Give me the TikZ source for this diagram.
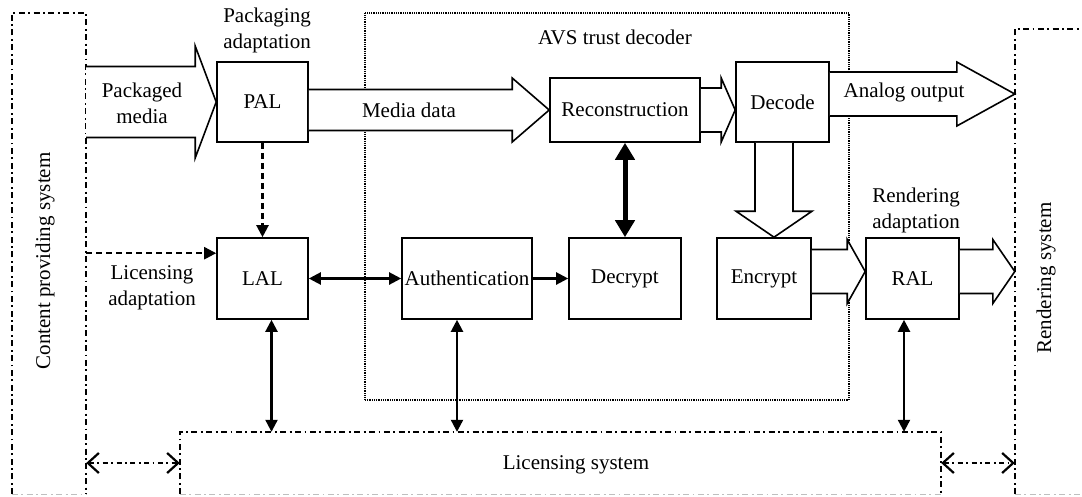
\documentclass[tikz,border=0pt]{standalone}
\usepackage{fontspec}
\setmainfont{Liberation Serif}
\usetikzlibrary{arrows.meta,calc}

% horizontal block arrow: tail, tip, body half-height, head half-height, head length
\newcommand\hfat[5]{%
  \draw[fat] ($(#1)+(0,-#3)$) -- ($(#2)+(-#5,-#3)$) -- ($(#2)+(-#5,-#4)$) -- (#2)
    -- ($(#2)+(-#5,#4)$) -- ($(#2)+(-#5,#3)$) -- ($(#1)+(0,#3)$);}
% downward block arrow: tail, tip, body half-width, head half-width, head length
\newcommand\vfat[5]{%
  \draw[fat] ($(#1)+(-#3,0)$) -- ($(#2)+(-#3,-#5)$) -- ($(#2)+(-#4,-#5)$) -- (#2)
    -- ($(#2)+(#4,-#5)$) -- ($(#2)+(#3,-#5)$) -- ($(#1)+(#3,0)$);}

\begin{document}
\begin{tikzpicture}[x=1pt,y=-1pt,
  every node/.style={font=\fontsize{21}{26}\selectfont, inner sep=0pt, align=center},
  blk/.style={draw, line width=1.6pt},
  fat/.style={draw, line width=1.6pt, line join=miter, fill=white},
  dashdot/.style={line width=1.7pt, dash pattern=on 6pt off 3.5pt on 1.8pt off 3.5pt},
  faintdashdot/.style={line width=1.3pt, gray!50, dash pattern=on 6pt off 3.5pt on 1.8pt off 3.5pt},
  dotbox/.style={line width=1.4pt, dash pattern=on 1pt off 0.8pt},
  tri/.tip={Triangle[length=12pt,width=12pt]},
  link/.style={line width=2.2pt, tri-tri},
  onelink/.style={line width=2.2pt, -tri},
  dlink/.style={line width=2.2pt, dash pattern=on 6pt off 4pt, -tri},
  barb/.tip={Straight Barb[length=11pt,width=20pt,line width=2.2pt]},
  ddlink/.style={line width=1.8pt, dash pattern=on 5pt off 3.5pt on 1.8pt off 3.5pt, barb-barb},
  biglink/.style={line width=5pt, {Triangle[length=17pt,width=19pt]}-{Triangle[length=17pt,width=19pt]}}
]
\useasboundingbox (0,0) rectangle (1082,496);

% outer systems
\node (CPS) [minimum width=74pt, minimum height=481pt] at (49,253.5) {};
\draw[dashdot] (CPS.south west) -- (CPS.north west) -- (CPS.north east) -- (CPS.south east);
\draw[faintdashdot] (CPS.south west) -- (CPS.south east);
\node (cpstext) [rotate=90] at (45,261) {Content providing system};

\node (RS) [minimum width=90pt, minimum height=465pt] at (1060,261.5) {};
\draw[dashdot] (RS.south west) -- (RS.north west) -- (RS.north east);
\draw[faintdashdot] (RS.south west) -- (RS.south east);
\node (rstext) [rotate=90] at (1046,278) {Rendering system};

\node (LIC) [minimum width=761pt, minimum height=62pt] at (560.5,463) {};
\draw[dashdot] (LIC.south west) -- (LIC.north west) -- (LIC.north east) -- (LIC.south east);
\draw[faintdashdot] (LIC.south west) -- (LIC.south east);
\node (lictext) at (576,465) {Licensing system};

% trust decoder frame
\node (AVS) [draw, dotbox, minimum width=484pt, minimum height=387pt] at (607,206.5) {};
\node (avstext) at (615,37) {AVS trust decoder};

% blocks
\node (PAL) [blk, minimum width=91pt, minimum height=80pt] at (262.5,102) {PAL};
\node (REC) [blk, minimum width=150pt, minimum height=64pt] at (625,110) {Reconstruction};
\node (DEC) [blk, minimum width=93pt, minimum height=80pt] at (782.5,102) {Decode};
\node (LAL) [blk, minimum width=91pt, minimum height=81pt] at (262.5,278.5) {LAL};
\node (AUT) [blk, minimum width=130pt, minimum height=81pt] at (467,278.5) {Authentication};
\node (DCR) [blk, minimum width=112pt, minimum height=81pt] at (625,278.5) {Decrypt};
\node (ENC) [blk, minimum width=94pt, minimum height=81pt] at (764,278.5) {Encrypt};
\node (RAL) [blk, minimum width=93pt, minimum height=81pt] at (912.5,278.5) {RAL};

% labels
\node (pkgad) at (267,30) {Packaging\\adaptation};
\node (renad) at (916,210) {Rendering\\adaptation};
\node (licad) at (152,288) {Licensing\\adaptation};

% block arrows
\coordinate (pmTail) at (CPS.east |- PAL.west);
\hfat{pmTail}{PAL.west}{35.5}{56}{21}
\node (pmtext) at (142,103) {Packaged\\media};

\coordinate (mdTail) at (PAL.east |- REC.west);
\hfat{mdTail}{REC.west}{20.5}{32}{37}
\node (mdtext) at (409,110) {Media data};

\coordinate (rdTip) at (DEC.west |- REC.east);
\hfat{REC.east}{rdTip}{22}{32}{14}

\coordinate (aoTail) at ($(DEC.east)+(0,-8)$);
\coordinate (aoTip) at (RS.west |- aoTail);
\hfat{aoTail}{aoTip}{22}{32}{58}
\node (aotext) at (904,92) {Analog output};

\coordinate (erTail) at ($(ENC.east)+(0,-7)$);
\coordinate (erTip) at (RAL.west |- erTail);
\hfat{erTail}{erTip}{22}{32}{18}

\coordinate (roTail) at ($(RAL.east)+(0,-7)$);
\coordinate (roTip) at (RS.west |- roTail);
\hfat{roTail}{roTip}{22}{32}{22}

\coordinate (deTail) at ($(DEC.south)+(-8.5,0)$);
\coordinate (deTip) at (deTail |- ENC.north);
\vfat{deTail}{deTip}{19}{38}{26}

% connectors
\draw[dlink] (PAL) -- (LAL);
\coordinate (lalIn) at ($(LAL.north west)+(0,16)$);
\draw[dlink] (CPS.east |- lalIn) -- (lalIn);
\draw[link] (LAL) -- (AUT);
\draw[onelink] (AUT) -- (DCR);
\draw[biglink] (REC) -- (DCR);

\coordinate (lalDn) at ($(LAL.south)+(9,0)$);
\draw[link] (lalDn) -- (lalDn |- LIC.north);
\coordinate (autDn) at ($(AUT.south)+(-10,0)$);
\draw[link] (autDn) -- (autDn |- LIC.north);
\coordinate (ralDn) at ($(RAL.south)+(-8.5,0)$);
\draw[link] (ralDn) -- (ralDn |- LIC.north);

\draw[ddlink] (CPS.east |- LIC.west) -- (LIC.west);
\draw[ddlink] (LIC.east) -- (RS.west |- LIC.east);
\end{tikzpicture}
\end{document}
